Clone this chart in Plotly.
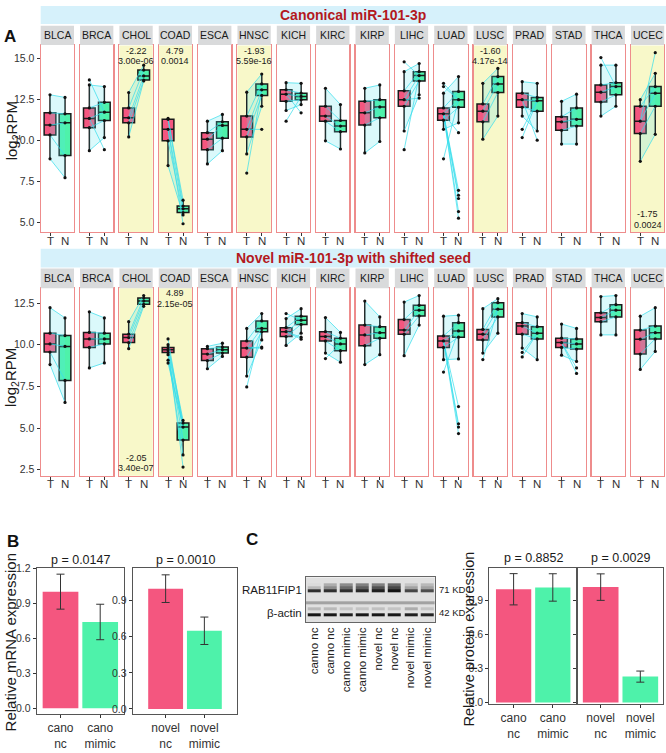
import plotly.graph_objects as go

W, H = 666, 753

# ---------------- DATA ----------------
cancers = ["BLCA", "BRCA", "CHOL", "COAD", "ESCA", "HNSC", "KICH", "KIRC",
           "KIRP", "LIHC", "LUAD", "LUSC", "PRAD", "STAD", "THCA", "UCEC"]
groups = ["T", "N"]

# box statistics: (lower whisker, q1, median, q3, upper whisker)  log2RPM
canon_T = [
    (8.88, 10.34, 10.94, 11.69, 12.79), (9.38, 10.78, 11.35, 11.99, 13.39),
    (10.22, 11.08, 11.39, 11.99, 12.93), (8.47, 9.98, 10.68, 11.29, 11.35),
    (8.57, 9.44, 10.08, 10.48, 11.18), (9.18, 10.22, 10.68, 11.49, 12.95),
    (11.83, 12.39, 12.83, 13.09, 13.53), (9.98, 11.18, 11.49, 12.09, 13.19),
    (9.24, 10.94, 11.69, 12.39, 13.19), (10.58, 12.09, 12.49, 13.03, 14.20),
    (10.68, 11.24, 11.63, 11.99, 12.89), (10.08, 11.14, 11.79, 12.23, 13.49),
    (11.49, 12.03, 12.49, 12.89, 13.59), (9.78, 10.62, 11.14, 11.45, 12.39),
    (11.49, 12.35, 12.95, 13.39, 14.60), (8.73, 10.42, 11.18, 12.09, 12.49),
]
canon_N = [
    (7.73, 9.08, 11.08, 11.63, 12.63), (10.18, 11.22, 11.73, 12.33, 13.29),
    (13.63, 13.69, 13.94, 14.30, 14.60), (5.46, 5.60, 5.83, 6.00, 6.36),
    (9.38, 10.14, 10.92, 11.14, 11.59), (12.09, 12.75, 13.09, 13.45, 14.06),
    (12.19, 12.49, 12.69, 12.89, 13.49), (9.48, 10.54, 10.88, 11.22, 12.19),
    (9.94, 11.39, 12.05, 12.49, 13.39), (12.79, 13.63, 13.96, 14.20, 14.70),
    (11.08, 12.03, 12.49, 12.99, 13.90), (11.49, 12.93, 13.45, 13.90, 14.40),
    (10.58, 11.79, 12.43, 12.63, 13.49), (9.78, 10.88, 11.29, 11.99, 12.83),
    (12.09, 12.79, 13.29, 13.53, 14.60), (10.38, 12.09, 12.89, 13.29, 14.10),
]
canon_T_out = {"BRCA": [13.7], "HNSC": [8.01], "KICH": [11.18], "LIHC": [14.8, 9.44],
               "LUAD": [13.49, 13.29, 8.88], "PRAD": [10.68, 10.18], "THCA": [15.06]}
canon_N_out = {"BRCA": [9.44], "COAD": [4.92], "HNSC": [10.68], "KICH": [11.69],
               "LIHC": [12.59], "LUAD": [10.48, 6.96, 6.66, 6.46, 5.66, 5.26],
               "PRAD": [10.02], "UCEC": [15.36]}
canon_sig = {"CHOL": ("-2.22", "3.00e-06", "top"), "COAD": ("4.79", "0.0014", "top"),
             "HNSC": ("-1.93", "5.59e-16", "top"), "LUSC": ("-1.60", "4.17e-14", "top"),
             "UCEC": ("-1.75", "0.0024", "bottom")}
canon_yticks = [5.0, 7.5, 10.0, 12.5, 15.0]

novel_T = [
    (8.81, 9.56, 10.05, 10.69, 12.22), (8.61, 9.84, 10.35, 10.74, 11.97),
    (9.76, 10.13, 10.43, 10.63, 11.38), (9.40, 9.54, 9.70, 9.84, 10.00),
    (8.56, 9.05, 9.44, 9.76, 9.90), (8.12, 9.25, 9.80, 10.23, 10.98),
    (9.96, 10.49, 10.78, 11.02, 11.57), (9.50, 10.23, 10.49, 10.78, 11.63),
    (8.81, 9.94, 10.59, 11.18, 12.62), (9.34, 10.63, 10.88, 11.51, 12.56),
    (9.10, 9.84, 10.23, 10.53, 11.71), (9.50, 10.29, 10.63, 10.92, 12.16),
    (9.80, 10.63, 11.12, 11.32, 11.87), (9.37, 9.84, 10.13, 10.39, 11.24),
    (10.59, 11.38, 11.63, 11.91, 12.89), (8.52, 9.44, 10.33, 10.88, 11.71),
]
novel_N = [
    (6.54, 7.86, 9.90, 10.55, 11.61), (8.91, 10.05, 10.35, 10.69, 11.61),
    (12.30, 12.42, 12.62, 12.80, 12.95), (3.39, 4.28, 5.06, 5.30, 5.46),
    (9.30, 9.50, 9.70, 9.86, 10.09), (10.29, 10.78, 10.98, 11.43, 11.87),
    (10.69, 11.22, 11.47, 11.71, 12.16), (8.95, 9.64, 10.05, 10.39, 10.74),
    (9.40, 10.39, 10.72, 11.08, 11.67), (11.18, 11.73, 12.07, 12.36, 12.95),
    (9.15, 10.45, 10.83, 11.32, 11.77), (10.69, 11.67, 12.13, 12.52, 12.76),
    (9.10, 10.35, 10.69, 11.08, 11.67), (9.00, 9.74, 10.05, 10.35, 10.98),
    (10.59, 11.67, 12.07, 12.40, 12.95), (9.60, 10.35, 10.72, 11.12, 12.22),
]
novel_T_out = {"COAD": [10.35, 9.07, 8.90], "HNSC": [7.47], "KICH": [11.87], "KIRC": [9.17],
               "LUAD": [8.36], "LUSC": [9.11], "PRAD": [9.54, 9.27]}
novel_N_out = {"COAD": [2.66], "HNSC": [9.86, 9.80], "KICH": [10.45, 10.33],
               "LUAD": [6.29, 5.26, 5.06, 4.67], "STAD": [8.61, 8.28]}
novel_sig = {"CHOL": ("-2.05", "3.40e-07", "bottom"), "COAD": ("4.89", "2.15e-05", "top")}
novel_yticks = [2.5, 5.0, 7.5, 10.0, 12.5]

# panel B: relative mRNA expression
mrna_groups_cano = ["cano<br>nc", "cano<br>mimic"]
mrna_cano = [1.00, 0.74]
mrna_cano_err = [0.150, 0.152]
mrna_groups_novel = ["novel<br>nc", "novel<br>mimic"]
mrna_novel = [1.00, 0.65]
mrna_novel_err = [0.115, 0.114]
mrna_p = ["p = 0.0147", "p = 0.0010"]

# panel C: relative protein expression
protein_cano = [1.00, 1.016]
protein_cano_err = [0.138, 0.121]
protein_novel = [1.019, 0.229]
protein_novel_err = [0.117, 0.049]
protein_p = ["p = 0.8852", "p = 0.0029"]

# western blot lanes and band intensities (0 = blank, 1 = black)
blot_lanes = ["canno nc", "canno nc", "canno mimic", "canno mimic",
              "novel nc", "novel nc", "novel mimic", "novel mimic"]
rab_upper1 = [0.10, 0.30, 0.45, 0.50, 0.50, 0.60, 0.20, 0.25]
rab_upper2 = [0.25, 0.45, 0.60, 0.65, 0.70, 0.75, 0.35, 0.35]
rab_main = [0.85, 0.85, 0.85, 0.88, 0.92, 0.97, 0.75, 0.72]
actin_faint = [0.25, 0.25, 0.20, 0.20, 0.22, 0.20, 0.30, 0.20]
actin_main = [0.95, 0.95, 0.92, 0.95, 0.95, 0.95, 0.92, 0.90]

# ---------------- STYLE ----------------
PINK = "#F4567F"
GREEN = "#4EF2AA"
CYAN = "rgba(55,222,235,0.8)"
CYAN_FILL = "rgba(90,228,238,0.22)"
BORDER = "#EE8C8C"
STRIP = "#D9DADB"
BAND = "#D6F1FB"
YELLOW = "#F8F8C9"
FONT = "Liberation Sans, Arial, sans-serif"


def X(p):
    return p / W


def Y(p):
    return 1 - p / H


def sfx(k):
    return "" if k == 1 else str(k)


layout = dict(width=W, height=H, margin=dict(l=0, r=0, t=0, b=0),
              paper_bgcolor="white", plot_bgcolor="rgba(0,0,0,0)", showlegend=False,
              font=dict(family=FONT, color="#222"))
shapes, annotations = [], []
scatter_traces, box_traces, other_traces = [], [], []


def set_axes(k, x0, x1, ytop, ybot, xopt, yopt):
    layout["xaxis" + sfx(k)] = dict(domain=[X(x0), X(x1)], anchor="y" + sfx(k), **xopt)
    layout["yaxis" + sfx(k)] = dict(domain=[Y(ybot), Y(ytop)], anchor="x" + sfx(k), **yopt)


# ---------------- PANEL A ----------------
FX0, PITCH, FW = 40.7, 39.35, 33.3
panel_rows = [
    ("Canonical miR-101-3p", canon_T, canon_N, canon_T_out, canon_N_out, canon_sig,
     canon_yticks, 1, (0, 18.3), (20, 39.5), (40, 229.3), (4.40, 15.80)),
    ("Novel miR-101-3p with shifted seed", novel_T, novel_N, novel_T_out, novel_N_out, novel_sig,
     novel_yticks, 17, (246, 265), (266, 286), (286, 476), (2.145, 13.39)),
]

for (title, Tq, Nq, Tout, Nout, sig, yt, k0, band, strip, panel, yr) in panel_rows:
    shapes.append(dict(type="rect", xref="paper", yref="paper", x0=X(FX0), x1=1,
                       y0=Y(band[1]), y1=Y(band[0]), fillcolor=BAND, line=dict(width=0), layer="below"))
    annotations.append(dict(text="<b>%s</b>" % title, xref="paper", yref="paper",
                            x=X((FX0 + W) / 2), y=Y((band[0] + band[1]) / 2), showarrow=False,
                            xanchor="center", yanchor="middle",
                            font=dict(size=14, color="#B3191E")))
    for i, c in enumerate(cancers):
        k = k0 + i
        s = sfx(k)
        x0 = FX0 + i * PITCH
        x1 = x0 + FW
        xopt = dict(type="category", categoryorder="array", categoryarray=groups,
                    range=[-0.62, 1.6], showgrid=False, zeroline=False, showline=True, mirror=True,
                    linecolor=BORDER, linewidth=1.2, ticks="outside", ticklen=3, tickcolor="#333",
                    showticklabels=False, fixedrange=True)
        yopt = dict(range=list(yr), showgrid=False, zeroline=False, showline=True, mirror=True,
                    linecolor=BORDER, linewidth=1.2, tickvals=yt, ticktext=["%.1f" % v for v in yt],
                    showticklabels=(i == 0), ticks="outside" if i == 0 else "", ticklen=3,
                    tickcolor="#333", tickfont=dict(size=10.5, color="#333"), fixedrange=True)
        set_axes(k, x0, x1, panel[0], panel[1], xopt, yopt)

        # T / N labels under the panel
        for gi, g in enumerate(groups):
            annotations.append(dict(text=g, xref="x" + s, x=gi, yref="paper", y=Y(panel[1] + 8.5),
                                    showarrow=False, xanchor="center", yanchor="middle",
                                    font=dict(size=11.5, color="#333")))

        # strip
        shapes.append(dict(type="rect", xref="x%s domain" % s, x0=0, x1=1, yref="paper",
                           y0=Y(strip[1]), y1=Y(strip[0]), fillcolor=STRIP, line=dict(width=0)))
        annotations.append(dict(text=c, xref="x%s domain" % s, x=0.5, yref="paper",
                                y=Y((strip[0] + strip[1]) / 2), showarrow=False,
                                xanchor="center", yanchor="middle",
                                font=dict(size=10.5, color="#1a1a1a")))
        if c in sig:
            fc, pv, where = sig[c]
            shapes.append(dict(type="rect", xref="x%s domain" % s, yref="y%s domain" % s,
                               x0=0, x1=1, y0=0, y1=1, fillcolor=YELLOW, line=dict(width=0),
                               layer="below"))
            if where == "top":
                ys = [panel[0] + 5.2, panel[0] + 16.2]
            else:
                ys = [panel[1] - 18, panel[1] - 7.5]
            for txt, yy in zip([fc, pv], ys):
                annotations.append(dict(text=txt, xref="x%s domain" % s, x=0.5, yref="paper",
                                        y=Y(yy), showarrow=False, xanchor="center", yanchor="middle",
                                        font=dict(size=9, color="#1a1a1a")))

        t = Tq[i]
        n = Nq[i]
        to = Tout.get(c, [])
        no = Nout.get(c, [])
        # translucent band spanned by the paired lines (whisker to whisker)
        scatter_traces.append(go.Scatter(x=["T", "N", "N", "T"], y=[t[0], n[0], n[4], t[4]],
                                         mode="lines", fill="toself", fillcolor=CYAN_FILL,
                                         line=dict(width=0), xaxis="x" + s, yaxis="y" + s,
                                         hoverinfo="skip"))
        lx, ly = [], []
        for a, b in zip(t, n):
            lx += ["T", "N", None]
            ly += [a, b, None]
        for v in to:
            lx += ["T", "N", None]
            ly += [v, n[2], None]
        for v in no:
            lx += ["T", "N", None]
            ly += [t[2], v, None]
        scatter_traces.append(go.Scatter(x=lx, y=ly, mode="lines", line=dict(color=CYAN, width=0.9),
                                         xaxis="x" + s, yaxis="y" + s, hoverinfo="skip"))
        dx = ["T"] * (len(t) + len(to)) + ["N"] * (len(n) + len(no))
        dy = list(t) + list(to) + list(n) + list(no)
        scatter_traces.append(go.Scatter(x=dx, y=dy, mode="markers",
                                         marker=dict(color="#111", size=3.2),
                                         xaxis="x" + s, yaxis="y" + s, hoverinfo="skip"))
        for lab, q, col in (("T", t, PINK), ("N", n, GREEN)):
            box_traces.append(go.Box(x=[lab], lowerfence=[q[0]], q1=[q[1]], median=[q[2]],
                                     q3=[q[3]], upperfence=[q[4]], fillcolor=col,
                                     line=dict(color="#1a1a1a", width=1.5), width=0.78,
                                     whiskerwidth=0, xaxis="x" + s, yaxis="y" + s,
                                     hoverinfo="skip"))

for yy in (127, 377):
    annotations.append(dict(text="log<sub>2</sub>RPM", xref="paper", yref="paper", x=X(12), y=Y(yy),
                            textangle=-90, showarrow=False, xanchor="center", yanchor="middle",
                            font=dict(size=15, color="#1a1a1a")))

# ---------------- PANEL B & C bar charts ----------------
def bar_axes(k, x0, x1, ytop, ybot, xr, yr, yt, show_labels=True):
    xopt = dict(type="category", range=xr, showgrid=False, zeroline=False, showline=True, mirror=True,
                linecolor="#555", linewidth=1, ticks="outside", ticklen=3, tickcolor="#333",
                tickfont=dict(size=12, color="#333"), fixedrange=True)
    yopt = dict(range=yr, showgrid=False, zeroline=False, showline=True, mirror=True,
                linecolor="#555", linewidth=1, tickvals=yt, ticktext=["%.1f" % v for v in yt],
                ticks="outside", ticklen=3, tickcolor="#333", showticklabels=show_labels,
                tickfont=dict(size=10.5, color="#333"), fixedrange=True)
    set_axes(k, x0, x1, ytop, ybot, xopt, yopt)


bar_specs = [
    (33, 36.7, 124.0, 569.3, 717.3, [-0.6, 1.6], [-0.047, 1.205], [0, 0.3, 0.6, 0.9, 1.2], True,
     mrna_groups_cano, mrna_cano, mrna_cano_err, mrna_p[0], 561.7),
    (34, 132.7, 237.3, 569.3, 717.3, [-0.85, 1.85], [-0.04, 1.174], [0, 0.3, 0.6, 0.9], True,
     mrna_groups_novel, mrna_novel, mrna_novel_err, mrna_p[1], 561.7),
    (36, 489.3, 576.9, 569.3, 707.3, [-0.62, 1.615], [-0.012, 1.19], [0, 0.3, 0.6, 0.9], True,
     mrna_groups_cano, protein_cano, protein_cano_err, protein_p[0], 559.3),
    (37, 576.9, 663.3, 569.3, 707.3, [-0.6, 1.58], [-0.012, 1.19], [0, 0.3, 0.6, 0.9], False,
     mrna_groups_novel, protein_novel, protein_novel_err, protein_p[1], 559.3),
]
for (k, x0, x1, yt0, yb0, xr, yr, yt, lab, cats, vals, errs, ptxt, py) in bar_specs:
    bar_axes(k, x0, x1, yt0, yb0, xr, yr, yt, lab)
    other_traces.append(go.Bar(x=cats, y=vals, width=0.9, marker=dict(color=[PINK, GREEN], line=dict(width=0)),
                               error_y=dict(type="data", array=errs, color="#333", thickness=1, width=4),
                               xaxis="x%d" % k, yaxis="y%d" % k, hoverinfo="skip"))
    annotations.append(dict(text=ptxt, xref="x%d domain" % k, x=0.5, yref="paper", y=Y(py),
                            showarrow=False, xanchor="center", yanchor="middle",
                            font=dict(size=12.5, color="#1a1a1a")))

annotations.append(dict(text="Relative mRNA expression", xref="paper", yref="paper", x=X(10), y=Y(645),
                        textangle=-90, showarrow=False, xanchor="center", yanchor="middle",
                        font=dict(size=15, color="#1a1a1a")))
annotations.append(dict(text="Relative protein expression", xref="paper", yref="paper", x=X(469), y=Y(641),
                        textangle=-90, showarrow=False, xanchor="center", yanchor="middle",
                        font=dict(size=14.5, color="#1a1a1a")))

# ---------------- Western blot ----------------
BG, DIV = 0.08, 0.35
blot_rows = ["bg", "bg", "up1", "up2", "main", "bg", "bg", "bg", "div", "bg", "faint", "bg", "act", "bg", "bg"]
row_vals = {"up1": rab_upper1, "up2": rab_upper2, "main": rab_main, "faint": actin_faint, "act": actin_main}
z = []
for r in blot_rows:
    fill = DIV if r == "div" else BG
    row = [fill]
    for lane in range(len(blot_lanes)):
        row += [row_vals[r][lane] if r in row_vals else fill, fill]
    z.append(row)
edges = [-0.5]
for lane in range(len(blot_lanes)):
    edges += [lane - 0.4, lane + 0.4]
edges += [len(blot_lanes) - 0.5]
yedges = [r - 0.5 for r in range(len(blot_rows) + 1)]
other_traces.append(go.Heatmap(z=z, x=edges, y=yedges, colorscale=[[0, "#F2F2F2"], [1, "#0D0D0D"]],
                               zmin=0, zmax=1, showscale=False, xaxis="x35", yaxis="y35", hoverinfo="skip"))
set_axes(35, 305.7, 435.0, 579.0, 624.3,
         dict(range=[-0.5, 7.5], tickvals=list(range(8)), ticktext=blot_lanes, tickangle=-90,
              showline=True, mirror=True, linecolor="#666", linewidth=1, ticks="",
              showgrid=False, zeroline=False, tickfont=dict(size=11.5, color="#222"), fixedrange=True),
         dict(range=[len(blot_rows) - 0.5, -0.5], showticklabels=False, showline=True, mirror=True,
              linecolor="#666", linewidth=1, ticks="", showgrid=False, zeroline=False, fixedrange=True))
for txt, xx, yy, anc, sz in (("RAB11FIP1", 304, 591.7, "right", 11.5), ("β-actin", 304, 615.5, "right", 11.5),
                             ("71 KD", 437, 591.5, "left", 9.5), ("42 KD", 437, 614.5, "left", 9.5)):
    annotations.append(dict(text=txt, xref="paper", yref="paper", x=X(xx), y=Y(yy), showarrow=False,
                            xanchor=anc, yanchor="middle", font=dict(size=sz, color="#1a1a1a")))

# panel letters
for txt, xx, yy in (("A", 10.5, 30.5), ("B", 12.5, 542.5), ("C", 252.5, 540.5)):
    annotations.append(dict(text="<b>%s</b>" % txt, xref="paper", yref="paper", x=X(xx), y=Y(yy),
                            showarrow=False, xanchor="center", yanchor="middle",
                            font=dict(size=17, color="#111")))

layout["shapes"] = shapes
layout["annotations"] = annotations
layout["boxmode"] = "overlay"

fig = go.Figure(data=scatter_traces + box_traces + other_traces)
fig.update_layout(**layout)
fig.write_html("out.html", config={"displayModeBar": False, "staticPlot": True},
               post_script="document.body.style.margin='0px';document.body.style.padding='0px';"
                           "document.body.style.overflow='hidden';"
                           "document.documentElement.style.overflow='hidden';")
